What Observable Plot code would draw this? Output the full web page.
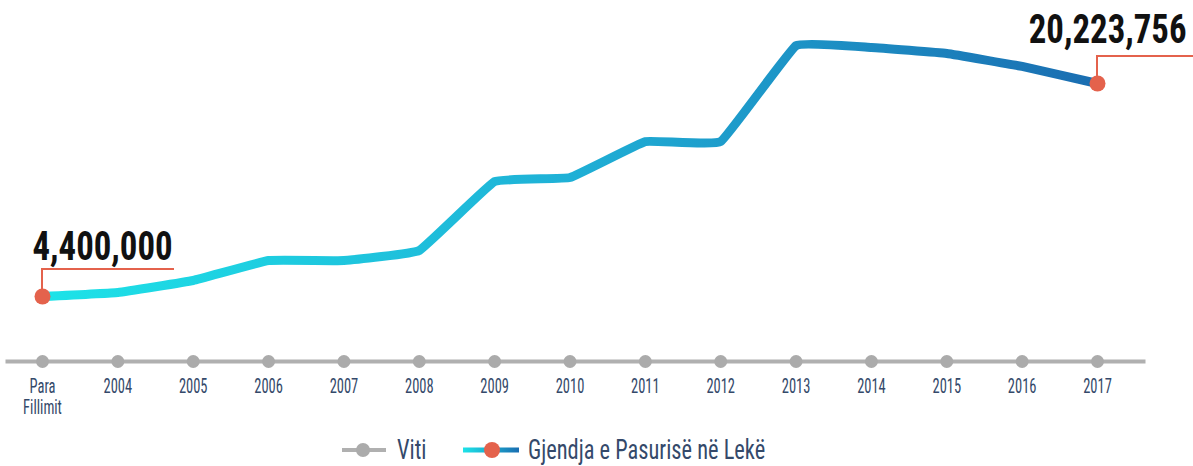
<!DOCTYPE html>
<html><head><meta charset="utf-8">
<script src="https://cdn.jsdelivr.net/npm/d3@7"></script>
<script src="https://cdn.jsdelivr.net/npm/@observablehq/plot@0.6"></script>
<style>
body{margin:0;background:#fff;font-family:Roboto,"Noto Sans",sans-serif;font-stretch:condensed;}
#legend{position:relative;height:41px;color:#34496a;font-size:28px;line-height:1;}
#legend .item{position:absolute;top:0;height:41px;}
#legend svg{position:absolute;top:17px;left:0;}
#legend span{position:absolute;top:11px;white-space:nowrap;transform:scaleX(0.8);transform-origin:left center;}
</style></head><body>
<div id="chart"></div>
<div id="legend"></div>
<script>
const years = ["Para\nFillimit","2004","2005","2006","2007","2008","2009","2010","2011","2012","2013","2014","2015","2016","2017"];
const values = [4400000,4700000,5590000,7070000,7070000,7820000,12940000,13240000,15910000,15910000,23040000,22900000,22450000,21490000,20223756];
const valueLabels = ["4,400,000","20,223,756"];
const legendLabels = ["Viti","Gjendja e Pasurisë në Lekë"];

const data = years.map((y, i) => ({year: y, value: values[i]}));
const ends = [data[0], data[data.length - 1]];
const red = "#e4624c";
const font = "Roboto, Noto Sans, sans-serif";

function gradientDefs() {
  const defs = d3.create("svg:defs");
  const g = defs.append("linearGradient").attr("id", "lineGrad").attr("x1", 0).attr("x2", 1).attr("y1", 0).attr("y2", 0);
  g.append("stop").attr("offset", "0%").attr("stop-color", "#1de3e8");
  g.append("stop").attr("offset", "50%").attr("stop-color", "#1fb0d6");
  g.append("stop").attr("offset", "100%").attr("stop-color", "#1a6db1");
  return defs.node();
}

function elbows(index, scales) {
  const g = d3.create("svg:g").attr("fill", "none").attr("stroke", red).attr("stroke-width", 2);
  const ax = scales.x(ends[0].year), ay = scales.y(ends[0].value);
  g.append("path").attr("d", `M${ax},${ay}V${ay - 27}H${ax + 132}`);
  const bx = scales.x(ends[1].year), by = scales.y(ends[1].value);
  g.append("path").attr("d", `M${bx},${by}V${by - 27}H${bx + 100}`);
  return g.node();
}

const chart = Plot.plot({
  width: 1193,
  height: 425,
  marginLeft: 42,
  marginRight: 96,
  marginTop: 0,
  marginBottom: 64,
  style: {fontFamily: font, fontSize: "21px", fontStretch: "condensed", background: "#fff"},
  x: {type: "point", domain: years, padding: 0, round: false},
  y: {domain: [4400000, 20223756], range: [296, 83], axis: null},
  marks: [
    gradientDefs,
    Plot.frame({anchor: "bottom", stroke: "#b0b0b0", strokeWidth: 4, insetLeft: -35, insetRight: -46}),
    Plot.dot(years, {x: d => d, frameAnchor: "bottom", r: 6.5, fill: "#ababab"}),
    Plot.axisX({tickSize: 0, tickPadding: 17, fontSize: 21, fill: "#34496a", label: null}),
    Plot.line(data, {x: "year", y: "value", stroke: "url(#lineGrad)", strokeWidth: 9, curve: "cardinal", tension: 0.75}),
    elbows,
    Plot.dot(ends, {x: "year", y: "value", r: 8, fill: red}),
    Plot.text([ends[0]], {x: "year", y: "value", text: () => valueLabels[0], textAnchor: "start", lineAnchor: "bottom", dx: -10, dy: -37, fontSize: 40, fontWeight: "bold", fill: "#111"}),
    Plot.text([ends[1]], {x: "year", y: "value", text: () => valueLabels[1], textAnchor: "end", lineAnchor: "bottom", dx: 89, dy: -41, fontSize: 40, fontWeight: "bold", fill: "#111"})
  ]
});
document.getElementById("chart").appendChild(chart);

// condense glyphs horizontally (the original uses a narrow display face)
function squeeze(selector, factor) {
  chart.querySelectorAll(selector).forEach(t => {
    const spans = t.querySelectorAll("tspan");
    (spans.length ? Array.from(spans) : [t]).forEach(e => {
      const w = e.getComputedTextLength();
      e.setAttribute("textLength", w * factor);
      e.setAttribute("lengthAdjust", "spacingAndGlyphs");
    });
  });
}
squeeze('g[aria-label="x-axis tick label"] text', 0.69);
squeeze('g[aria-label="text"] text', 0.87);

const legend = document.getElementById("legend");
legend.innerHTML = `
<div class="item" style="left:342px"><svg width="44" height="16"><line x1="0" x2="44" y1="8" y2="8" stroke="#b0b0b0" stroke-width="4"/><circle cx="21" cy="8" r="7" fill="#ababab"/></svg><span style="left:55px">${legendLabels[0]}</span></div>
<div class="item" style="left:463px"><svg width="56" height="18" style="top:16px"><defs><linearGradient id="lg2" x1="0" x2="1"><stop offset="0" stop-color="#1de3e8"/><stop offset="1" stop-color="#1a6db1"/></linearGradient></defs><rect x="0" y="6.5" width="56" height="5" fill="url(#lg2)"/><circle cx="29" cy="9" r="8" fill="${red}"/></svg><span style="left:65px">${legendLabels[1]}</span></div>`;
</script>
</body></html>
